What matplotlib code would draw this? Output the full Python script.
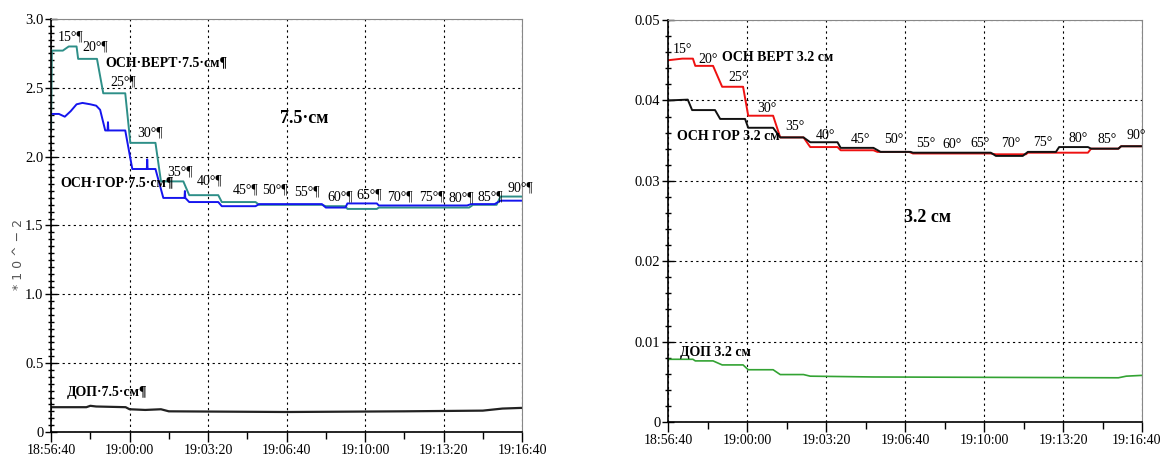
import matplotlib
matplotlib.use('Agg')
import matplotlib.pyplot as plt
import matplotlib.transforms as mtransforms
from matplotlib.ticker import MultipleLocator, FuncFormatter

plt.rcParams['font.family'] = ['Liberation Serif', 'DejaVu Serif']

# time in seconds from 18:56:40
# ---- left panel (x10^-2) ----
vert75_t = [0, 2, 30, 45, 65, 69, 117, 133, 189, 202, 266, 280, 337, 352, 426, 435, 521, 530,
            690, 700, 750, 755, 830, 835, 1065, 1075, 1135, 1145, 1200]
vert75_v = [2.20, 2.77, 2.77, 2.80, 2.80, 2.71, 2.71, 2.46, 2.46, 2.10, 2.10, 1.82, 1.82, 1.72, 1.72, 1.67, 1.67, 1.65,
            1.65, 1.64, 1.64, 1.62, 1.62, 1.63, 1.63, 1.65, 1.65, 1.71, 1.71]

gor75_t = [0, 20, 35, 50, 65, 80, 100, 115, 125, 138, 144, 145, 146, 189, 207, 244, 245, 246, 266, 286,
           340, 341, 342, 352, 426, 435, 521, 530, 690, 700, 750, 755, 830, 835, 1060, 1070, 1130, 1145, 1200]
gor75_v = [2.31, 2.31, 2.29, 2.33, 2.38, 2.39, 2.38, 2.37, 2.34, 2.19, 2.19, 2.25, 2.19, 2.19, 1.91, 1.91, 1.98, 1.91, 1.91, 1.70,
           1.70, 1.75, 1.70, 1.67, 1.67, 1.64, 1.64, 1.655, 1.655, 1.63, 1.63, 1.66, 1.66, 1.645, 1.645, 1.655, 1.655, 1.68, 1.68]

dop75_t = [0, 90, 100, 115, 190, 200, 240, 280, 300, 600, 900, 1100, 1150, 1200]
dop75_v = [0.18, 0.18, 0.19, 0.185, 0.18, 0.165, 0.16, 0.165, 0.15, 0.145, 0.15, 0.155, 0.17, 0.175]

left_angles = ['15°¶', '20°¶', '25°¶', '30°¶', '35°¶', '40°¶', '45°¶', '50°¶', '55°¶',
               '60°¶', '65°¶', '70°¶', '75°¶', '80°¶', '85°¶', '90°¶']
left_angle_t = [18, 79, 151, 219, 296, 372, 462, 538, 618, 704, 779, 855, 937, 1013, 1087, 1162]
left_angle_v = [2.87, 2.80, 2.54, 2.17, 1.89, 1.82, 1.76, 1.76, 1.74, 1.71, 1.72, 1.71, 1.71, 1.70, 1.71, 1.77]

# ---- right panel ----
vert32_t = [0, 36, 63, 69, 114, 137, 190, 203, 266, 284, 343, 360, 429, 437, 520, 530, 610, 620, 817, 830, 906,
            911, 1063, 1071, 1140, 1147, 1200]
vert32_v = [0.0450, 0.0452, 0.0452, 0.0443, 0.0443, 0.0417, 0.0417, 0.0381, 0.0381, 0.0354, 0.0354, 0.0342, 0.0342,
            0.0338, 0.0338, 0.0336, 0.0336, 0.0334, 0.0334, 0.0333, 0.0333, 0.0335, 0.0335, 0.0340, 0.0340, 0.0343, 0.0343]

gor32_t = [0, 50, 61, 119, 132, 195, 203, 266, 284, 343, 360, 429, 437, 520, 538, 614, 620, 817, 830, 898, 911,
           982, 990, 1063, 1071, 1140, 1147, 1200]
gor32_v = [0.0400, 0.0401, 0.0388, 0.0388, 0.0377, 0.0377, 0.0366, 0.0366, 0.0354, 0.0354, 0.0348, 0.0348, 0.0341,
           0.0341, 0.0336, 0.0336, 0.0335, 0.0335, 0.0331, 0.0331, 0.0336, 0.0336, 0.0342, 0.0342, 0.0340, 0.0340,
           0.0343, 0.0343]

dop32_t = [0, 63, 69, 114, 137, 190, 203, 266, 284, 343, 360, 520, 1140, 1160, 1200]
dop32_v = [0.0078, 0.0078, 0.0076, 0.0076, 0.0071, 0.0071, 0.0065, 0.0065, 0.0059, 0.0059, 0.0057, 0.0056,
           0.0055, 0.0057, 0.0058]

right_angles = ['15°', '20°', '25°', '30°', '35°', '40°', '45°', '50°', '55°',
                '60°', '65°', '70°', '75°', '80°', '85°', '90°']
right_angle_t = [13, 76, 152, 226, 297, 373, 462, 546, 627, 695, 766, 843, 924, 1013, 1088, 1160]
right_angle_v = [0.0463, 0.0451, 0.0429, 0.0390, 0.0367, 0.0357, 0.0351, 0.0351, 0.0346, 0.0345, 0.0347,
                 0.0346, 0.0348, 0.0353, 0.0352, 0.0357]

time_labels = ['18:56:40', '19:00:00', '19:03:20', '19:06:40', '19:10:00', '19:13:20', '19:16:40']


def style_axes(ax, ymax, ymajor, yminor, yfmt):
    ax.set_xlim(0, 1200)
    ax.set_ylim(0, ymax)
    ax.xaxis.set_minor_locator(MultipleLocator(100))
    ax.set_xticks(range(0, 1201, 200))
    ax.set_xticklabels(time_labels)
    ax.yaxis.set_major_locator(MultipleLocator(ymajor))
    ax.yaxis.set_minor_locator(MultipleLocator(yminor))
    ax.yaxis.set_major_formatter(FuncFormatter(yfmt))
    ax.grid(True, which='major', color='black', linestyle=(0, (2, 3)), linewidth=0.8)
    ax.tick_params(axis='x', which='major', direction='out', length=7, width=1, labelsize=10, pad=2)
    ax.tick_params(axis='x', which='minor', direction='out', length=5, width=1)
    ax.tick_params(axis='y', which='major', direction='inout', length=9, width=1, labelsize=10.5, pad=1)
    ax.tick_params(axis='y', which='minor', direction='inout', length=5, width=1)
    ax.spines['left'].set_color('black')
    ax.spines['bottom'].set_color('black')
    ax.spines['left'].set_linewidth(1.2)
    ax.spines['bottom'].set_linewidth(1.2)
    ax.spines['top'].set_color('#888888')
    ax.spines['right'].set_color('#888888')


fig = plt.figure(figsize=(11.63, 4.62), dpi=100)

# left panel
ax1 = fig.add_axes([0.0439, 0.065, 0.405, 0.894])
ax1.plot(vert75_t, vert75_v, color='#2e8f88', linewidth=1.4)
ax1.plot(gor75_t, gor75_v, color='#1515ee', linewidth=1.4)
ax1.plot(dop75_t, dop75_v, color='#222222', linewidth=1.6)
style_axes(ax1, 3.0, 0.5, 0.05, lambda v, p: '0' if v == 0 else f'{v:.1f}')
for s, t, v in zip(left_angles, left_angle_t, left_angle_v):
    ax1.text(t, v, s, fontsize=10, va='center', ha='left')
ax1.text(138, 2.68, 'ОСН·ВЕРТ·7.5·см¶', fontsize=10, fontweight='bold', va='center')
ax1.text(23, 1.81, 'ОСН·ГОР·7.5·см¶', fontsize=10, fontweight='bold', va='center')
ax1.text(644, 2.28, '7.5·см', fontsize=13, fontweight='bold', va='center', ha='center')
ax1.text(41, 0.29, 'ДОП·7.5·см¶', fontsize=10, fontweight='bold', va='center')
fig.text(0.016, 0.45, '* 1 0 ^ \u2212 2', rotation=90, fontsize=9, color='#555555',
         va='center', ha='center', family='DejaVu Sans')

# right panel
ax2 = fig.add_axes([0.5744, 0.0866, 0.4076, 0.870])
ax2.plot(vert32_t, vert32_v, color='#ee1111', linewidth=1.4)
ax2.plot(gor32_t, gor32_v, color='#111111', linewidth=1.4)
ax2.plot(dop32_t, dop32_v, color='#33a333', linewidth=1.2)
style_axes(ax2, 0.05, 0.01, 0.002, lambda v, p: '0' if abs(v) < 1e-9 else f'{v:.2f}')
for s, t, v in zip(right_angles, right_angle_t, right_angle_v):
    ax2.text(t, v, s, fontsize=10, va='center', ha='left')
ax2.text(137, 0.0454, 'ОСН ВЕРТ 3.2 см', fontsize=10, fontweight='bold', va='center')
ax2.text(22, 0.0355, 'ОСН ГОР 3.2 см', fontsize=10, fontweight='bold', va='center')
ax2.text(657, 0.0255, '3.2 см', fontsize=13, fontweight='bold', va='center', ha='center')
ax2.text(30, 0.0087, 'ДОП 3.2 см', fontsize=10, fontweight='bold', va='center')

# keep the last time label inside the picture
last = ax2.get_xticklabels()[-1]
last.set_transform(last.get_transform() + mtransforms.ScaledTranslation(-6 / 100, 0, fig.dpi_scale_trans))

fig.savefig('out.png', dpi=100)
